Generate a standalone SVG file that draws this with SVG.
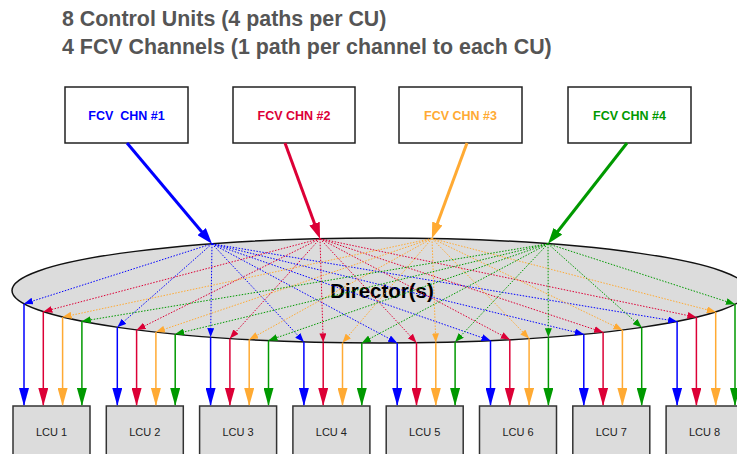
<svg xmlns="http://www.w3.org/2000/svg" width="737" height="454" viewBox="0 0 737 454">
<style>
.title{font-family:"Liberation Sans",Arial,sans-serif;font-weight:bold;font-size:21.4px;fill:#555555}
.fcv{fill:#ffffff;stroke:#222222;stroke-width:1.5}
.fcvt{font-family:"Liberation Sans",Arial,sans-serif;font-weight:bold;font-size:12.5px;text-anchor:middle}
.lcu{fill:#dcdcdc;stroke:#333333;stroke-width:1.5}
.lcut{font-family:"Liberation Sans",Arial,sans-serif;font-size:11px;fill:#222222;text-anchor:middle}
.thick{stroke-width:3;fill:none}
.dot{stroke-width:1;stroke-dasharray:1.5 1.5;fill:none}
.vert{stroke-width:1.5;fill:none}
.b{stroke:#0000ff}.r{stroke:#dc0036}.o{stroke:#ffaa33}.g{stroke:#009900}
</style>
<defs>
<marker id="tb" markerUnits="userSpaceOnUse" markerWidth="16" markerHeight="11" refX="6" refY="5.5" orient="auto"><path d="M0,0 L16,5.5 L0,11 z" fill="#0000ff"/></marker>
<marker id="tr" markerUnits="userSpaceOnUse" markerWidth="16" markerHeight="11" refX="6" refY="5.5" orient="auto"><path d="M0,0 L16,5.5 L0,11 z" fill="#dc0036"/></marker>
<marker id="to" markerUnits="userSpaceOnUse" markerWidth="16" markerHeight="11" refX="6" refY="5.5" orient="auto"><path d="M0,0 L16,5.5 L0,11 z" fill="#ffaa33"/></marker>
<marker id="tg" markerUnits="userSpaceOnUse" markerWidth="16" markerHeight="11" refX="6" refY="5.5" orient="auto"><path d="M0,0 L16,5.5 L0,11 z" fill="#009900"/></marker>
<marker id="sb" markerUnits="userSpaceOnUse" markerWidth="9" markerHeight="7" refX="9" refY="3.5" orient="auto"><path d="M0,0 L9,3.5 L0,7 z" fill="#0000ff"/></marker>
<marker id="sr" markerUnits="userSpaceOnUse" markerWidth="9" markerHeight="7" refX="9" refY="3.5" orient="auto"><path d="M0,0 L9,3.5 L0,7 z" fill="#dc0036"/></marker>
<marker id="so" markerUnits="userSpaceOnUse" markerWidth="9" markerHeight="7" refX="9" refY="3.5" orient="auto"><path d="M0,0 L9,3.5 L0,7 z" fill="#ffaa33"/></marker>
<marker id="sg" markerUnits="userSpaceOnUse" markerWidth="9" markerHeight="7" refX="9" refY="3.5" orient="auto"><path d="M0,0 L9,3.5 L0,7 z" fill="#009900"/></marker>
<marker id="vb" markerUnits="userSpaceOnUse" markerWidth="18" markerHeight="10" refX="17" refY="5" orient="auto"><path d="M0,0 L18,5 L0,10 z" fill="#0000ff"/></marker>
<marker id="vr" markerUnits="userSpaceOnUse" markerWidth="18" markerHeight="10" refX="17" refY="5" orient="auto"><path d="M0,0 L18,5 L0,10 z" fill="#dc0036"/></marker>
<marker id="vo" markerUnits="userSpaceOnUse" markerWidth="18" markerHeight="10" refX="17" refY="5" orient="auto"><path d="M0,0 L18,5 L0,10 z" fill="#ffaa33"/></marker>
<marker id="vg" markerUnits="userSpaceOnUse" markerWidth="18" markerHeight="10" refX="17" refY="5" orient="auto"><path d="M0,0 L18,5 L0,10 z" fill="#009900"/></marker>
</defs>
<rect width="737" height="454" fill="#ffffff"/>
<g id="title">
<text class="title" x="62" y="26">8 Control Units (4 paths per CU)</text>
<text class="title" x="62" y="54">4 FCV Channels (1 path per channel to each CU)</text>
</g>
<g id="fcv1"><rect class="fcv" x="65" y="87" width="123" height="56"/><text class="fcvt" x="126.5" y="120" fill="#0000ff" xml:space="preserve">FCV  CHN #1</text></g>
<g id="fcv2"><rect class="fcv" x="233" y="87" width="122" height="56"/><text class="fcvt" x="294" y="120" fill="#dc0036">FCV CHN #2</text></g>
<g id="fcv3"><rect class="fcv" x="399" y="87" width="123" height="56"/><text class="fcvt" x="460.5" y="120" fill="#ffaa33">FCV CHN #3</text></g>
<g id="fcv4"><rect class="fcv" x="568" y="87" width="123" height="56"/><text class="fcvt" x="629.5" y="120" fill="#009900">FCV CHN #4</text></g>
<g id="director">
<ellipse cx="380" cy="290.5" rx="368" ry="52.5" fill="#dcdcdc" stroke="#111111" stroke-width="1.5"/>
<text x="382" y="298" font-family="'Liberation Sans',Arial,sans-serif" font-weight="bold" font-size="20.5" fill="#000000" text-anchor="middle">Director(s)</text>
</g>
<g id="lcu1"><rect class="lcu" x="13" y="406" width="77" height="60"/><text class="lcut" x="51.5" y="436">LCU 1</text></g>
<g id="lcu2"><rect class="lcu" x="106.3" y="406" width="77" height="60"/><text class="lcut" x="144.8" y="436">LCU 2</text></g>
<g id="lcu3"><rect class="lcu" x="199.6" y="406" width="77" height="60"/><text class="lcut" x="238.1" y="436">LCU 3</text></g>
<g id="lcu4"><rect class="lcu" x="292.9" y="406" width="77" height="60"/><text class="lcut" x="331.4" y="436">LCU 4</text></g>
<g id="lcu5"><rect class="lcu" x="386.2" y="406" width="77" height="60"/><text class="lcut" x="424.7" y="436">LCU 5</text></g>
<g id="lcu6"><rect class="lcu" x="479.5" y="406" width="77" height="60"/><text class="lcut" x="518" y="436">LCU 6</text></g>
<g id="lcu7"><rect class="lcu" x="572.8" y="406" width="77" height="60"/><text class="lcut" x="611.3" y="436">LCU 7</text></g>
<g id="lcu8"><rect class="lcu" x="666.1" y="406" width="77" height="60"/><text class="lcut" x="704.6" y="436">LCU 8</text></g>
<g id="connectors">
<line class="thick b" x1="127" y1="143" x2="205.5" y2="236.2" marker-end="url(#tb)"/>
<line class="thick r" x1="285" y1="143" x2="316.6" y2="229.3" marker-end="url(#tr)"/>
<line class="thick o" x1="467" y1="143" x2="435.3" y2="229.1" marker-end="url(#to)"/>
<line class="thick g" x1="627" y1="143" x2="554.2" y2="236" marker-end="url(#tg)"/>
<g class="dot b" marker-end="url(#sb)">
<line x1="212" y1="243.8" x2="24" y2="303.8"/>
<line x1="212" y1="243.8" x2="117.3" y2="327.3"/>
<line x1="212" y1="243.8" x2="210.6" y2="337.1"/>
<line x1="212" y1="243.8" x2="303.9" y2="341.9"/>
<line x1="212" y1="243.8" x2="397.2" y2="342.9"/>
<line x1="212" y1="243.8" x2="490.5" y2="340.6"/>
<line x1="212" y1="243.8" x2="583.8" y2="334.2"/>
<line x1="212" y1="243.8" x2="677.1" y2="321.5"/>
</g>
<g class="dot r" marker-end="url(#sr)">
<line x1="320" y1="238.7" x2="43.3" y2="311.7"/>
<line x1="320" y1="238.7" x2="136.6" y2="329.9"/>
<line x1="320" y1="238.7" x2="229.9" y2="338.4"/>
<line x1="320" y1="238.7" x2="323.2" y2="342.4"/>
<line x1="320" y1="238.7" x2="416.5" y2="342.7"/>
<line x1="320" y1="238.7" x2="509.8" y2="339.6"/>
<line x1="320" y1="238.7" x2="603.1" y2="332.3"/>
<line x1="320" y1="238.7" x2="696.4" y2="317.3"/>
</g>
<g class="dot o" marker-end="url(#so)">
<line x1="432" y1="238.5" x2="62.6" y2="317.1"/>
<line x1="432" y1="238.5" x2="155.9" y2="332.1"/>
<line x1="432" y1="238.5" x2="249.2" y2="339.6"/>
<line x1="432" y1="238.5" x2="342.5" y2="342.7"/>
<line x1="432" y1="238.5" x2="435.8" y2="342.4"/>
<line x1="432" y1="238.5" x2="529.1" y2="338.5"/>
<line x1="432" y1="238.5" x2="622.4" y2="330"/>
<line x1="432" y1="238.5" x2="715.7" y2="312"/>
</g>
<g class="dot g" marker-end="url(#sg)">
<line x1="548" y1="243.8" x2="81.9" y2="321.3"/>
<line x1="548" y1="243.8" x2="175.2" y2="334.1"/>
<line x1="548" y1="243.8" x2="268.5" y2="340.5"/>
<line x1="548" y1="243.8" x2="361.8" y2="342.9"/>
<line x1="548" y1="243.8" x2="455.1" y2="341.9"/>
<line x1="548" y1="243.8" x2="548.4" y2="337.2"/>
<line x1="548" y1="243.8" x2="641.7" y2="327.4"/>
<line x1="548" y1="243.8" x2="735" y2="304.3"/>
</g>
<g class="vert b" marker-end="url(#vb)">
<line x1="24" y1="303.8" x2="24" y2="405"/>
<line x1="117.3" y1="327.3" x2="117.3" y2="405"/>
<line x1="210.6" y1="337.1" x2="210.6" y2="405"/>
<line x1="303.9" y1="341.9" x2="303.9" y2="405"/>
<line x1="397.2" y1="342.9" x2="397.2" y2="405"/>
<line x1="490.5" y1="340.6" x2="490.5" y2="405"/>
<line x1="583.8" y1="334.2" x2="583.8" y2="405"/>
<line x1="677.1" y1="321.5" x2="677.1" y2="405"/>
</g>
<g class="vert r" marker-end="url(#vr)">
<line x1="43.3" y1="311.7" x2="43.3" y2="405"/>
<line x1="136.6" y1="329.9" x2="136.6" y2="405"/>
<line x1="229.9" y1="338.4" x2="229.9" y2="405"/>
<line x1="323.2" y1="342.4" x2="323.2" y2="405"/>
<line x1="416.5" y1="342.7" x2="416.5" y2="405"/>
<line x1="509.8" y1="339.6" x2="509.8" y2="405"/>
<line x1="603.1" y1="332.3" x2="603.1" y2="405"/>
<line x1="696.4" y1="317.3" x2="696.4" y2="405"/>
</g>
<g class="vert o" marker-end="url(#vo)">
<line x1="62.6" y1="317.1" x2="62.6" y2="405"/>
<line x1="155.9" y1="332.1" x2="155.9" y2="405"/>
<line x1="249.2" y1="339.6" x2="249.2" y2="405"/>
<line x1="342.5" y1="342.7" x2="342.5" y2="405"/>
<line x1="435.8" y1="342.4" x2="435.8" y2="405"/>
<line x1="529.1" y1="338.5" x2="529.1" y2="405"/>
<line x1="622.4" y1="330" x2="622.4" y2="405"/>
<line x1="715.7" y1="312" x2="715.7" y2="405"/>
</g>
<g class="vert g" marker-end="url(#vg)">
<line x1="81.9" y1="321.3" x2="81.9" y2="405"/>
<line x1="175.2" y1="334.1" x2="175.2" y2="405"/>
<line x1="268.5" y1="340.5" x2="268.5" y2="405"/>
<line x1="361.8" y1="342.9" x2="361.8" y2="405"/>
<line x1="455.1" y1="341.9" x2="455.1" y2="405"/>
<line x1="548.4" y1="337.2" x2="548.4" y2="405"/>
<line x1="641.7" y1="327.4" x2="641.7" y2="405"/>
<line x1="735" y1="304.3" x2="735" y2="405"/>
</g>
</g>
</svg>
